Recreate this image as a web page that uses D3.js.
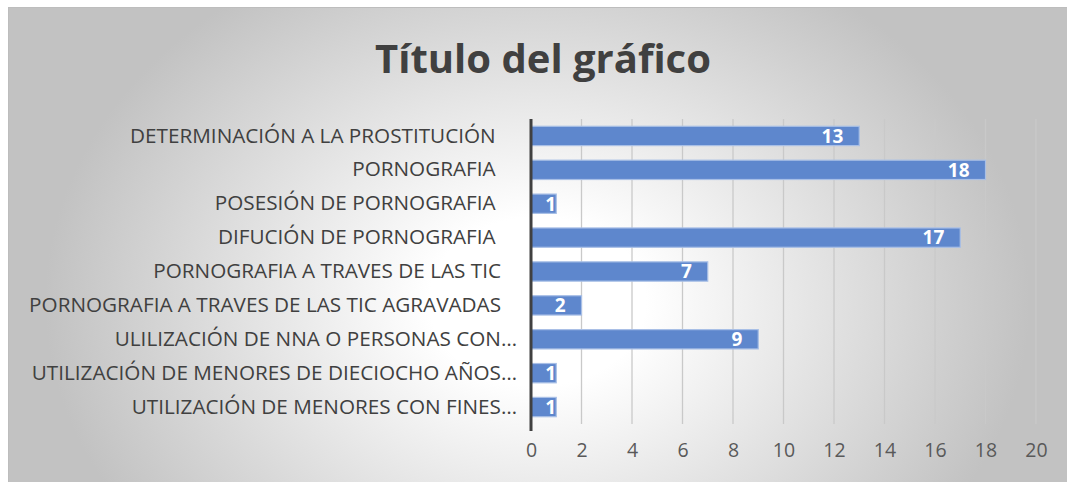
<!DOCTYPE html>
<html><head><meta charset="utf-8">
<script src="https://cdn.jsdelivr.net/npm/d3@7"></script>
<style>body{margin:0;background:#fff}svg{display:block}text{white-space:pre}</style>
</head><body>
<svg id="c" width="1067" height="482"></svg>
<script>
const categories = [
  "DETERMINACIÓN A LA PROSTITUCIÓN ",
  "PORNOGRAFIA ",
  "POSESIÓN DE PORNOGRAFIA ",
  "DIFUCIÓN DE PORNOGRAFIA ",
  "PORNOGRAFIA A TRAVES DE LAS TIC",
  "PORNOGRAFIA A TRAVES DE LAS TIC AGRAVADAS",
  "ULILIZACIÓN DE NNA O PERSONAS CON…",
  "UTILIZACIÓN DE MENORES DE DIECIOCHO AÑOS…",
  "UTILIZACIÓN DE MENORES CON FINES…"
];
const values = [13, 18, 1, 17, 7, 2, 9, 1, 1];
const xTicks = [0, 2, 4, 6, 8, 10, 12, 14, 16, 18, 20];
const title = "Título del gráfico";

const svg = d3.select("#c");
const defs = svg.append("defs");
const grad = defs.append("radialGradient").attr("id","bg")
  .attr("cx","0.5").attr("cy","0.62").attr("r","0.62")
  .attr("gradientTransform","translate(0.5,0.62) scale(0.75,1.3) translate(-0.5,-0.62)");
grad.append("stop").attr("offset","0.22").attr("stop-color","#ffffff");
grad.append("stop").attr("offset","1").attr("stop-color","#c2c2c2");

svg.append("rect").attr("x",8).attr("y",7).attr("width",1059).attr("height",475)
  .attr("fill","url(#bg)");
svg.append("line").attr("x1",8).attr("x2",1067).attr("y1",7.5).attr("y2",7.5).attr("stroke","#bdbdbd");
svg.append("line").attr("x1",8.5).attr("x2",8.5).attr("y1",7).attr("y2",482).attr("stroke","#bdbdbd");

const x = d3.scaleLinear().domain([0,20]).range([531,1036]);
const y = d3.scaleBand().domain(categories).range([119,424]).paddingInner(0.43).paddingOuter(0.215);

// gridlines
svg.append("g").selectAll("line").data(xTicks.slice(1)).join("line")
  .attr("x1",d=>x(d)).attr("x2",d=>x(d)).attr("y1",119).attr("y2",424)
  .attr("stroke","#c9c9c9").attr("stroke-width",1.3);

// x axis labels
const xa = svg.append("g").attr("transform","translate(0,424)")
  .call(d3.axisBottom(x).tickValues(xTicks).tickSize(0).tickPadding(19));
xa.select(".domain").remove();
xa.selectAll("text").attr("font-family","'Open Sans', sans-serif").attr("font-size",19.5).attr("fill","#595959");

// bars
svg.append("g").selectAll("rect").data(values).join("rect")
  .attr("x",x(0)).attr("y",(d,i)=>y(categories[i]))
  .attr("width",d=>x(d)-x(0)).attr("height",y.bandwidth())
  .attr("fill","#5e87cd").attr("stroke","#a8bfe6").attr("stroke-width",1.2);

// y axis
const ya = svg.append("g").attr("transform","translate(531,0)")
  .call(d3.axisLeft(y).tickSize(0).tickPadding(14));
ya.select(".domain").remove();
ya.selectAll("text").attr("font-family","'Open Sans', sans-serif").attr("font-size",20.7).attr("fill","#404040")
  .attr("dx", d => d.endsWith("…") ? 0 : -16);
svg.append("line").attr("x1",531).attr("x2",531).attr("y1",119).attr("y2",431)
  .attr("stroke","#404040").attr("stroke-width",3);

// value labels
svg.append("g").selectAll("text").data(values).join("text")
  .attr("x",d=>Math.max(x(d)-16, x(0)+25))
  .attr("y",(d,i)=>y(categories[i])+y.bandwidth()/2)
  .attr("dy","0.36em").attr("text-anchor","end")
  .attr("font-family","'Open Sans', sans-serif").attr("font-weight","bold")
  .attr("font-size",19).attr("fill","#ffffff").text(d=>d);

// title
svg.append("text").attr("x",543).attr("y",73).attr("text-anchor","middle")
  .attr("font-family","'Open Sans', sans-serif").attr("font-weight","bold")
  .attr("font-size",40).attr("fill","#404040").text(title);
</script>
</body></html>
